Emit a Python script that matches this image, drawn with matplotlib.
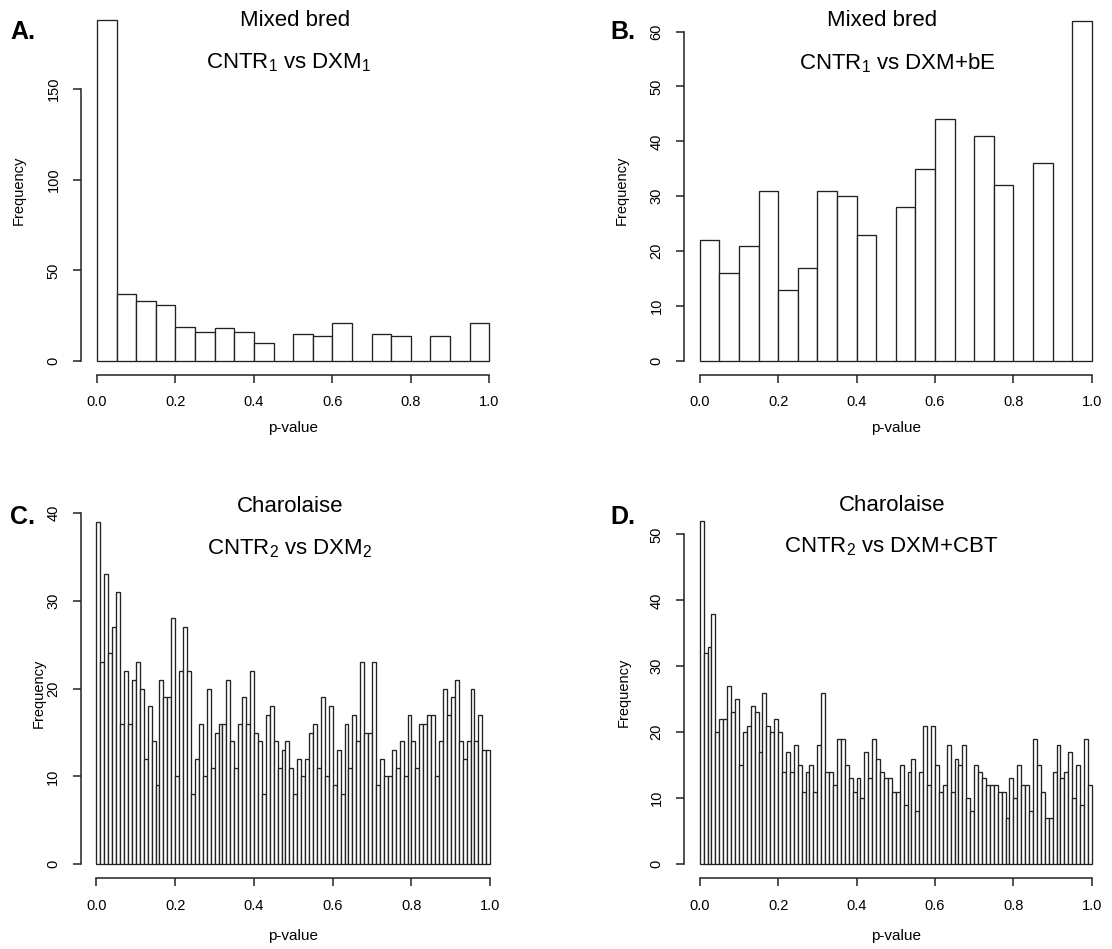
import numpy as np
import matplotlib.pyplot as plt

plt.rcParams['font.family'] = ['Liberation Sans', 'DejaVu Sans']
plt.rcParams['mathtext.fontset'] = 'custom'
plt.rcParams['mathtext.rm'] = 'Liberation Sans'
plt.rcParams['mathtext.default'] = 'regular'

# p-value histogram counts (bin width 0.05 on top row, 0.01 on bottom row)
mixed_dxm = [188, 37, 33, 31, 19, 16, 18, 16, 10, 0,
             15, 14, 21, 0, 15, 14, 0, 14, 0, 21]
mixed_dxm_be = [22, 16, 21, 31, 13, 17, 31, 30, 23, 0,
                28, 35, 44, 0, 41, 32, 0, 36, 0, 62]
charolaise_dxm = [39, 23, 33, 24, 27, 31, 16, 22, 16, 21,
                  23, 20, 12, 18, 14, 9, 21, 19, 19, 28,
                  10, 22, 27, 22, 8, 12, 16, 10, 20, 11,
                  15, 16, 16, 21, 14, 11, 16, 19, 16, 22,
                  15, 14, 8, 17, 18, 14, 11, 13, 14, 11,
                  8, 12, 10, 12, 15, 16, 11, 19, 10, 18,
                  9, 13, 8, 16, 11, 17, 14, 23, 15, 15,
                  23, 9, 12, 10, 10, 13, 11, 14, 10, 17,
                  14, 11, 16, 16, 17, 17, 10, 14, 20, 17,
                  19, 21, 14, 12, 14, 20, 14, 17, 13, 13]
charolaise_dxm_cbt = [52, 32, 33, 38, 20, 22, 22, 27, 23, 25,
                      15, 20, 21, 24, 23, 17, 26, 21, 20, 22,
                      20, 14, 17, 14, 18, 15, 11, 14, 15, 11,
                      18, 26, 14, 14, 12, 19, 19, 15, 13, 11,
                      13, 10, 17, 13, 19, 16, 14, 13, 13, 11,
                      11, 15, 9, 14, 16, 8, 14, 21, 12, 21,
                      15, 11, 12, 18, 11, 16, 15, 18, 10, 8,
                      15, 14, 13, 12, 12, 12, 11, 11, 7, 13,
                      10, 15, 12, 12, 8, 19, 15, 11, 7, 7,
                      14, 18, 13, 14, 17, 10, 15, 9, 19, 12]

W, H = 1112, 949
fig = plt.figure(figsize=(W / 100, H / 100), dpi=100)


def px_axes(left, top, right, bottom):
    return fig.add_axes([left / W, 1 - bottom / H, (right - left) / W, (bottom - top) / H])


def draw_hist(ax, counts, yticks, ylab_x, xlab_y):
    n = len(counts)
    edges = np.linspace(0, 1, n + 1)
    ax.bar(edges[:-1], counts, width=1 / n, align='edge', color='white',
           edgecolor='#222222', linewidth=0.95)
    top = max(counts)
    # R-style 4% padding and detached axis lines
    ax.set_xlim(-0.04, 1.04)
    ax.set_ylim(-0.04 * top, 1.04 * top)
    ax.set_xticks(np.linspace(0, 1, 6))
    ax.set_xticklabels(['0.0', '0.2', '0.4', '0.6', '0.8', '1.0'])
    ax.set_yticks(yticks)
    ax.spines['top'].set_visible(False)
    ax.spines['right'].set_visible(False)
    ax.spines['left'].set_bounds(yticks[0], yticks[-1])
    ax.spines['bottom'].set_bounds(0, 1)
    for s in ['left', 'bottom']:
        ax.spines[s].set_linewidth(1.1)
        ax.spines[s].set_color('#222222')
    ax.tick_params(length=5.8, width=1.1, pad=9, labelsize=10.5, color='#222222')
    ax.tick_params(axis='y', labelrotation=90)
    for lab in ax.get_yticklabels():
        lab.set_va('center')
    ax.set_ylabel('Frequency', fontsize=10.5)
    ax.set_xlabel('p-value', fontsize=11)
    ax.yaxis.set_label_coords(ylab_x, 0.5)
    ax.xaxis.set_label_coords(0.5, xlab_y)


axA = px_axes(81.3, 6.5, 505, 374.6)
draw_hist(axA, mixed_dxm, [0, 50, 100, 150], -0.13, -0.126)
axA.text(0.504, 0.962, 'Mixed bred', transform=axA.transAxes, ha='center', va='center', fontsize=16)
axA.text(0.49, 0.847, 'CNTR$_1$ vs DXM$_1$', transform=axA.transAxes, ha='center', va='center', fontsize=16)

axB = px_axes(684, 7, 1107.5, 374.6)
draw_hist(axB, mixed_dxm_be, [0, 10, 20, 30, 40, 50, 60], -0.13, -0.126)
axB.text(0.468, 0.962, 'Mixed bred', transform=axB.transAxes, ha='center', va='center', fontsize=16)
axB.text(0.503, 0.847, 'CNTR$_1$ vs DXM+bE', transform=axB.transAxes, ha='center', va='center', fontsize=16)

axC = px_axes(80.7, 508, 506, 878)
draw_hist(axC, charolaise_dxm, [0, 10, 20, 30, 40], -0.082, -0.138)
axC.text(0.492, 1.003, 'Charolaise', transform=axC.transAxes, ha='center', va='center', fontsize=16)
axC.text(0.492, 0.889, 'CNTR$_2$ vs DXM$_2$', transform=axC.transAxes, ha='center', va='center', fontsize=16)

axD = px_axes(684, 507.4, 1107.5, 878)
draw_hist(axD, charolaise_dxm_cbt, [0, 10, 20, 30, 40, 50], -0.125, -0.138)
axD.text(0.491, 1.006, 'Charolaise', transform=axD.transAxes, ha='center', va='center', fontsize=16)
axD.text(0.489, 0.893, 'CNTR$_2$ vs DXM+CBT', transform=axD.transAxes, ha='center', va='center', fontsize=16)

# panel letters
for lab, x, y in [('A.', 10, 32), ('B.', 610, 32), ('C.', 10, 517), ('D.', 610, 517)]:
    fig.text(x / W, 1 - y / H, lab, fontsize=18, fontweight='bold', ha='left', va='center')

fig.savefig('out.png', dpi=100)
